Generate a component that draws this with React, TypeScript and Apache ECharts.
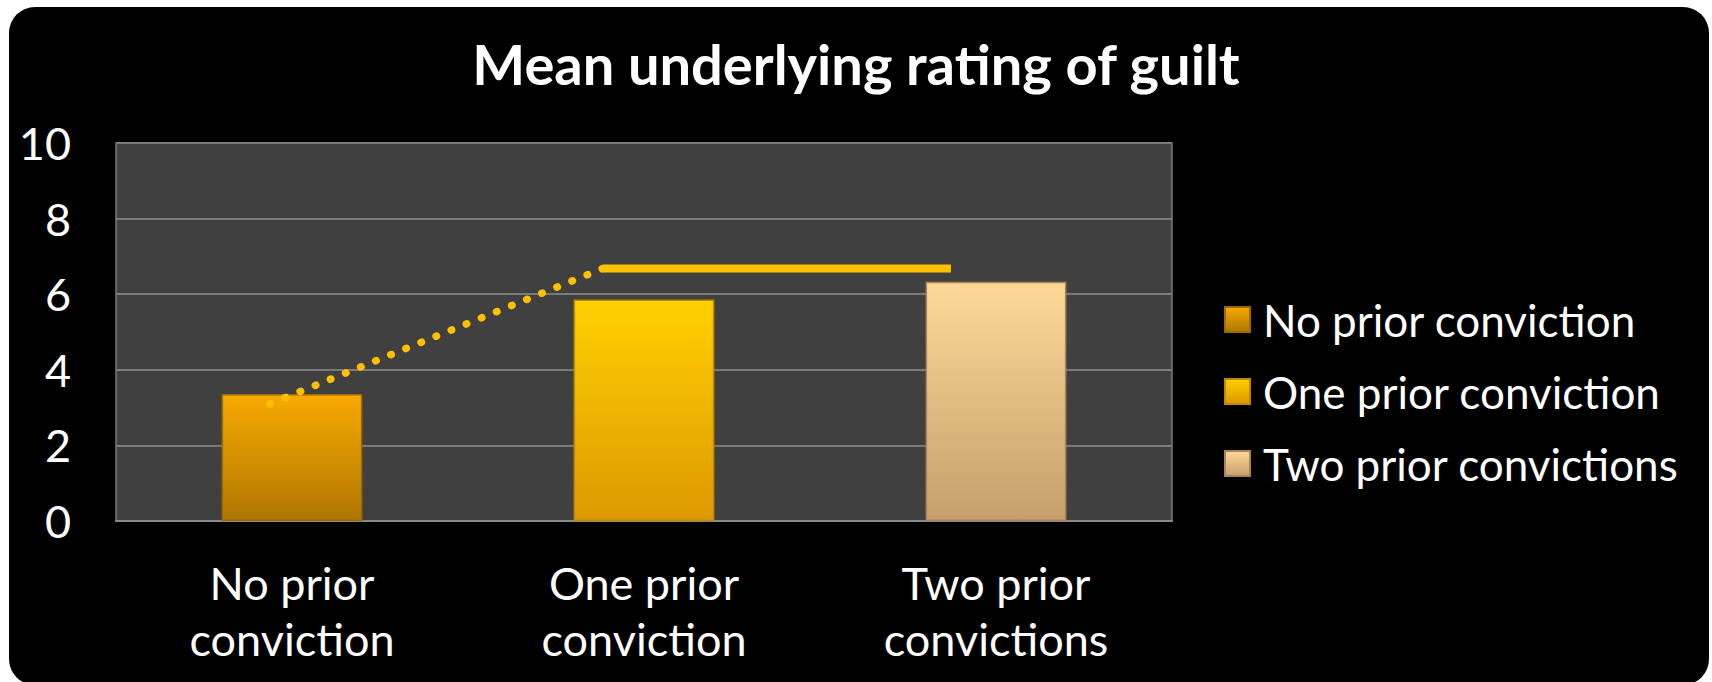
import React, { useEffect, useRef } from "react";
import * as echarts from "echarts";

const categories = ["No prior\nconviction", "One prior\nconviction", "Two prior\nconvictions"];
const seriesNames = ["No prior conviction", "One prior conviction", "Two prior convictions"];
const meanValues = [3.36, 5.86, 6.33];
const yTicks = [0, 2, 4, 6, 8, 10];
// annotation lines (x in category units along the axis, 0..3)
const dottedTrend = [
  [0.4375, 3.1],
  [1.383, 6.68],
];
const plateauLine = [
  [1.383, 6.68],
  [2.372, 6.68],
];

const FONT = "Lato, 'Open Sans', sans-serif";

const grad = (top: string, bottom: string) =>
  new echarts.graphic.LinearGradient(0, 0, 0, 1, [
    { offset: 0, color: top },
    { offset: 1, color: bottom },
  ]);

const barColors = [
  grad("#F7AA00", "#B07600"),
  grad("#FFD000", "#DD9800"),
  grad("#FFD898", "#C89E6C"),
];
const barBorders = ["#9A6A00", "#C08800", "#A88458"];

export default function App() {
  const ref = useRef<HTMLDivElement>(null);
  useEffect(() => {
    if (!ref.current) return;
    const chart = echarts.init(ref.current, null, { renderer: "svg" });
    const barSeries = seriesNames.map((name, i) => ({
      name,
      type: "bar",
      stack: "all",
      barWidth: "40%",
      data: meanValues.map((v, j) => (j === i ? v : "-")),
      itemStyle: {
        color: barColors[i],
        borderColor: barBorders[i],
        borderWidth: 1.5,
      },
      emphasis: { disabled: true },
    }));
    chart.setOption({
      animation: false,
      backgroundColor: "#ffffff",
      graphic: [
        {
          type: "rect",
          z: -10,
          silent: true,
          shape: { x: 9, y: 7, width: 1700, height: 678, r: 26 },
          style: { fill: "#000000" },
        },
      ],
      title: {
        text: "Mean underlying rating of guilt",
        left: "center",
        top: 30,
        textStyle: {
          color: "#ffffff",
          fontFamily: FONT,
          fontWeight: "bold",
          fontSize: 56,
        },
      },
      legend: {
        orient: "vertical",
        left: 1219,
        top: 292,
        icon: "rect",
        itemWidth: 25,
        itemHeight: 25,
        itemGap: 27,
        data: seriesNames,
        selectedMode: false,
        textStyle: {
          color: "#ffffff",
          fontFamily: FONT,
          fontSize: 44,
          lineHeight: 45,
          padding: [0, 0, 0, 8],
        },
      },
      grid: {
        left: 116,
        top: 143,
        right: 1712 - 1172,
        bottom: 682 - 521,
        show: true,
        backgroundColor: "#404040",
        borderColor: "#7a7a7a",
        borderWidth: 1.5,
      },
      xAxis: [
        {
          type: "category",
          data: categories,
          axisLine: { lineStyle: { color: "#8a8a8a", width: 2 } },
          axisTick: { show: false },
          axisLabel: {
            color: "#ffffff",
            fontFamily: FONT,
            fontSize: 45,
            lineHeight: 56,
            margin: 34,
          },
        },
        {
          type: "value",
          min: 0,
          max: 3,
          show: false,
        },
      ],
      yAxis: {
        type: "value",
        min: yTicks[0],
        max: yTicks[yTicks.length - 1],
        interval: 2,
        axisLine: { show: false },
        axisTick: { show: false },
        splitLine: { lineStyle: { color: "#7a7a7a", width: 2 } },
        axisLabel: {
          color: "#ffffff",
          fontFamily: FONT,
          fontSize: 45,
          margin: 45,
        },
      },
      series: [
        ...barSeries,
        {
          name: "trend",
          type: "line",
          xAxisIndex: 1,
          data: dottedTrend,
          symbol: "none",
          z: 5,
          lineStyle: {
            color: "#FFC000",
            width: 7.5,
            type: [0.5, 15.8],
            cap: "round",
          },
          emphasis: { disabled: true },
        },
        {
          name: "plateau",
          type: "line",
          xAxisIndex: 1,
          data: plateauLine,
          symbol: "none",
          z: 5,
          lineStyle: { color: "#FFC000", width: 8, cap: "butt" },
          emphasis: { disabled: true },
        },
      ],
    });
    return () => chart.dispose();
  }, []);
  return (
    <div
      ref={ref}
      style={{ position: "absolute", left: 0, top: 0, width: 1712, height: 682 }}
    />
  );
}
